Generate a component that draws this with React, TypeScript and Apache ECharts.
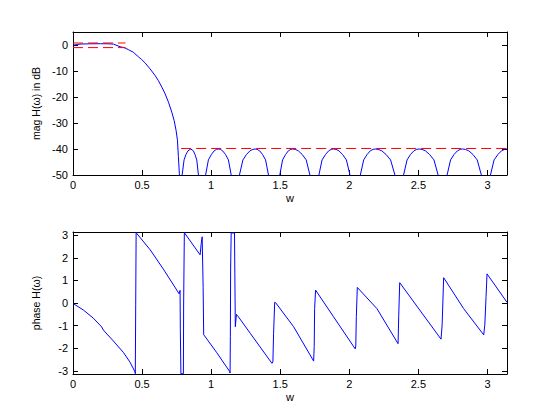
import React, { useEffect, useRef } from "react";
import * as echarts from "echarts";

const PI = Math.PI;

// ---- magnitude (dB) : [w, dB] ----
const magPassTransition: number[][] = [
  [0, -0.1], [0.03, 0.2], [0.063, 0.38], [0.12, 0.45], [0.2, 0.5], [0.26, 0.45],
  [0.292, 0.35], [0.341, -0.65], [0.377, -1.15], [0.401, -1.8], [0.437, -2.8],
  [0.473, -4.5], [0.497, -5.6], [0.522, -6.9], [0.558, -9.2], [0.594, -11.7],
  [0.618, -13.7], [0.643, -16.2], [0.667, -18.8], [0.691, -22], [0.715, -25.8],
  [0.732, -29], [0.746, -32.8], [0.756, -36.6], [0.763, -43], [0.77, -49.5], [0.778, -70],
];
const magLobe1: number[][] = [
  [0.79, -50], [0.804, -44.2], [0.818, -42.1], [0.832, -40.7], [0.853, -40],
  [0.871, -40.7], [0.883, -42.1], [0.896, -44.2], [0.908, -50], [0.934, -70],
];
const magLobe2: number[][] = [
  [0.96, -50], [0.98, -44.2], [1.002, -42.1], [1.022, -40.7], [1.039, -40.15], [1.053, -40],
  [1.067, -40.15], [1.083, -40.7], [1.104, -42.1], [1.125, -44.2], [1.145, -50], [1.175, -70],
];
const magLobe3: number[][] = [
  [1.205, -50], [1.23, -44.2], [1.256, -42.1], [1.281, -40.7], [1.302, -40.15], [1.319, -40],
  [1.333, -40.15], [1.351, -40.7], [1.372, -42.1], [1.394, -44.2], [1.415, -50], [1.456, -70],
];
const magLobe4: number[][] = [
  [1.497, -50], [1.517, -44.2], [1.539, -42.1], [1.559, -40.7], [1.576, -40.15], [1.59, -40],
  [1.609, -40.15], [1.631, -40.7], [1.659, -42.1], [1.688, -44.2], [1.715, -50], [1.748, -70],
];
const magLobe5: number[][] = [
  [1.78, -50], [1.803, -44.2], [1.828, -42.1], [1.851, -40.7], [1.87, -40.15], [1.886, -40],
  [1.904, -40.15], [1.925, -40.7], [1.951, -42.1], [1.979, -44.2], [2.005, -50], [2.043, -70],
];
const magLobe6: number[][] = [
  [2.08, -50], [2.104, -44.2], [2.129, -42.1], [2.152, -40.7], [2.172, -40.15], [2.188, -40],
  [2.209, -40.15], [2.235, -40.7], [2.266, -42.1], [2.299, -44.2], [2.33, -50], [2.36, -70],
];
const magLobe7: number[][] = [
  [2.393, -50], [2.418, -44.2], [2.443, -42.1], [2.468, -40.7], [2.488, -40.15], [2.505, -40],
  [2.526, -40.15], [2.551, -40.7], [2.581, -42.1], [2.613, -44.2], [2.643, -50], [2.675, -70],
];
const magLobe8: number[][] = [
  [2.708, -50], [2.733, -44.2], [2.758, -42.1], [2.783, -40.7], [2.803, -40.15], [2.82, -40],
  [2.84, -40.15], [2.865, -40.7], [2.895, -42.1], [2.926, -44.2], [2.956, -50], [2.99, -70],
];
const magLobe9: number[][] = [
  [3.022, -50], [3.048, -44.2], [3.076, -42.1], [3.102, -40.7], [3.124, -40.15], [3.1416, -40],
];

// ---- reference (red dashed) lines ----
const passUpper: number[][] = [[0, 0.77], [0.38, 0.77]];
const passLower: number[][] = [[0, -1.0], [0.38, -1.0]];
const stopLevel: number[][] = [[0.783, -39.8], [3.1416, -39.8]];

// ---- phase (rad) : [w, phase] ----
const phaseA: number[][] = [
  [0, -0.02], [0.075, -0.31], [0.147, -0.67], [0.208, -1.06], [0.22, -1.2], [0.292, -1.68],
  [0.365, -2.19], [0.413, -2.62], [0.449, -3.05], [0.451, -3.13], [0.454, -0.05], [0.457, 3.12],
];
const phaseB: number[][] = [
  [0.461, 3.08], [0.558, 2.36], [0.654, 1.5], [0.768, 0.41], [0.775, 0.56], [0.777, -1.2],
  [0.781, -3.13], [0.799, -3.13], [0.801, 0.0], [0.806, 3.12],
];
const phaseC: number[][] = [
  [0.812, 3.06], [0.92, 2.13], [0.928, 2.62], [0.935, 2.93], [0.94, 2.93], [0.942, 0.7],
  [0.946, -1.4], [0.949, -1.42], [1.041, -2.2], [1.133, -3.02], [1.137, -3.1], [1.139, -1.47],
  [1.141, 1.5], [1.145, 3.1], [1.169, 3.1], [1.175, -1.05], [1.183, -0.5],
];
const phaseD: number[][] = [
  [1.19, -0.55], [1.283, -1.34], [1.44, -2.67], [1.447, -2.61], [1.452, -1.34], [1.46, 0.03],
  [1.466, 0.02], [1.597, -1.05], [1.742, -2.57], [1.746, -1.92], [1.749, -0.25], [1.756, 0.57],
  [1.886, -0.61], [2.043, -2.03], [2.047, -1.9], [2.051, -0.6], [2.058, 0.69],
];
const phaseE: number[][] = [
  [2.2, -0.25], [2.353, -1.8], [2.358, -0.54], [2.365, 0.9], [2.664, -1.6], [2.672, -0.97],
  [2.683, 1.12], [2.828, -0.25], [2.973, -1.41], [2.981, -0.97], [2.99, 0.28], [2.997, 1.29],
  [3.1416, 0.03],
];

const xTicksInterval = 0.5;
const magTicksInterval = 10;

const FONT = '"Liberation Sans", Arial, Helvetica, sans-serif';

export default function App() {
  const ref = useRef<HTMLDivElement>(null);
  useEffect(() => {
    if (!ref.current) return;
    const chart = echarts.init(ref.current, undefined, { renderer: "svg" });
    const line = { lineStyle: { color: "#000", width: 1 } };
    const label = { color: "#000", fontSize: 11, fontFamily: FONT };
    const nameStyle = { color: "#000", fontSize: 10.5, fontFamily: FONT };
    const tick = { show: true, inside: true, length: 5, lineStyle: { color: "#000" } };
    const mkX = (grid: number, main: boolean) => ({
      type: "value", gridIndex: grid, min: 0, max: PI, interval: xTicksInterval,
      position: main ? "bottom" : "top",
      axisLine: { show: true, onZero: false, ...line }, axisTick: tick,
      splitLine: { show: false },
      axisLabel: main ? { ...label, margin: 4, showMaxLabel: false } : { show: false },
      name: main ? "w" : "", nameLocation: "middle", nameGap: 17,
      nameTextStyle: { ...label },
    });
    const magY = (main: boolean) => ({
      type: "value", gridIndex: 0, min: -50, max: 5, interval: magTicksInterval,
      position: main ? "left" : "right",
      axisLine: { show: true, onZero: false, ...line }, axisTick: tick,
      splitLine: { show: false },
      axisLabel: main ? { ...label, margin: 5, showMaxLabel: false } : { show: false },
      name: main ? "mag H(ω) in dB" : "", nameLocation: "middle", nameGap: 32,
      nameTextStyle: { ...nameStyle },
    });
    const phY = (main: boolean) => ({
      type: "value", gridIndex: 1, min: -PI, max: PI, splitNumber: 6,
      position: main ? "left" : "right",
      axisLine: { show: true, onZero: false, ...line }, axisTick: tick,
      splitLine: { show: false },
      axisLabel: main ? { ...label, margin: 5, showMaxLabel: false, showMinLabel: false } : { show: false },
      name: main ? "phase H(ω)" : "", nameLocation: "middle", nameGap: 32,
      nameTextStyle: { ...nameStyle },
    });
    const blue = (data: number[][], xi: number) => ({
      type: "line", xAxisIndex: xi, yAxisIndex: xi, data, showSymbol: false, symbol: "none",
      clip: true, silent: true, lineStyle: { color: "#0000ff", width: 1 },
    });
    const red = (data: number[][]) => ({
      type: "line", xAxisIndex: 0, yAxisIndex: 0, data, showSymbol: false, symbol: "none",
      clip: true, silent: true, lineStyle: { color: "#ff0000", width: 1, type: [10, 5] },
    });
    const magData = [
      ...magPassTransition, ...magLobe1, ...magLobe2, ...magLobe3, ...magLobe4,
      ...magLobe5, ...magLobe6, ...magLobe7, ...magLobe8, ...magLobe9,
    ];
    const phaseData = [...phaseA, ...phaseB, ...phaseC, ...phaseD, ...phaseE];
    chart.setOption({
      animation: false,
      backgroundColor: "#fff",
      textStyle: { fontFamily: FONT },
      grid: [
        { left: 73, top: 32, width: 434, height: 143 },
        { left: 73, top: 232, width: 434, height: 142 },
      ],
      xAxis: [mkX(0, true), mkX(0, false), mkX(1, true), mkX(1, false)],
      yAxis: [magY(true), magY(false), phY(true), phY(false)],
      series: [
        blue(magData, 0),
        red(passUpper),
        red(passLower),
        red(stopLevel),
        blue(phaseData, 2),
      ],
    });
    return () => chart.dispose();
  }, []);
  return (
    <div
      ref={ref}
      style={{ position: "fixed", left: 0, top: 0, width: 560, height: 420, background: "#fff" }}
    />
  );
}
